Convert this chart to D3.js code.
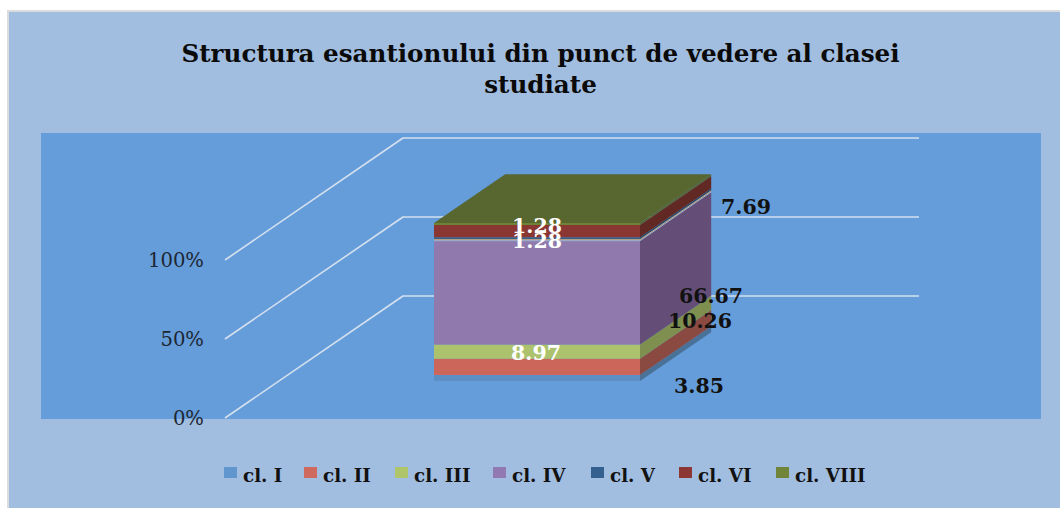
<!DOCTYPE html>
<html><head><meta charset="utf-8">
<script src="https://cdnjs.cloudflare.com/ajax/libs/d3/7.9.0/d3.min.js"></script>
<style>html,body{margin:0;padding:0;background:#fff;overflow:hidden}svg{display:block}</style>
</head><body><svg id="c" width="1060" height="508"></svg>
<script>
const categories = ["cl. I","cl. II","cl. III","cl. IV","cl. V","cl. VI","cl. VIII"];
const seriesValues = [3.85,10.26,8.97,66.67,1.28,7.69,1.28];
const seriesLabels = ["3.85","10.26","8.97","66.67","1.28","7.69","1.28"];
const tickLabels = ["0%","50%","100%"];
const tickValues = [0,50,100];
const titleLines = ["Structura esantionului din punct de vedere al clasei","studiate"];

const frontColors = ["#5d8fc4","#cc665b","#acc26c","#8f79ad","#35608c","#8a3733","#6f8336"];
const sideColors  = ["#4a7299","#8a4a42","#7e8f50","#644e78","#2b4a6b","#612824","#566330"];
const legendColors = ["#5f96cd","#cf6a5e","#afc569","#9279b1","#33608f","#8c3735","#71853a"];
const labelColors = ["#111","#111","#fff","#111","#fff","#111","#fff"];
const labelPos = [[699,386],[700,321],[536,353],[711,296],[537,241],[746,207],[537,226]];
const legendX = [224,304,395,493,591,679,776];

const svg = d3.select("#c");
const serif = "'DejaVu Serif','Liberation Serif',serif";
svg.append("rect").attr("x",7).attr("y",10).attr("width",1053).attr("height",498).attr("fill","#dcdcdc");
svg.append("rect").attr("x",9).attr("y",12).attr("width",1051).attr("height",496).attr("fill","#a1bddf");
svg.append("rect").attr("x",41).attr("y",133).attr("width",1000).attr("height",286).attr("fill","#659dda");

const y = d3.scaleLinear().domain([0,100]).range([418,260]);
const proj = (x,v,d)=>[x+178*d, y(v)-122*d];
const line = d3.line();

// wall and floor gridlines
const wallX0 = 225, wallX1 = 919;
svg.append("g").selectAll("path").data(tickValues).join("path")
  .attr("d",v=>line([proj(wallX0,v,0),proj(wallX0,v,1),[wallX1,proj(wallX0,v,1)[1]]]))
  .attr("fill","none").attr("stroke","#d4e0ee").attr("stroke-width",1.6).attr("stroke-linejoin","round");

// value axis labels
svg.append("g").selectAll("text").data(tickValues).join("text")
  .attr("x",204).attr("y",v=>y(v)+7).attr("text-anchor","end")
  .attr("font-family",serif).attr("font-size",19.6).attr("fill","#1d2733")
  .text((v,i)=>tickLabels[i]);

// stacked box
const stack = [];
let acc = 0;
seriesValues.forEach((v,i)=>{stack.push({i,from:acc,to:acc+v});acc+=v;});
const d0=0.303, d1=0.703;
const fx0=434-178*d0, fx1=640-178*d0;
const gBar = svg.append("g");
stack.forEach(s=>{
  gBar.append("path").attr("fill",sideColors[s.i])
    .attr("d",line([proj(fx1,s.from,d0),proj(fx1,s.from,d1),proj(fx1,s.to,d1),proj(fx1,s.to,d0)])+"Z");
  gBar.append("path").attr("fill",frontColors[s.i])
    .attr("d",line([proj(fx0,s.from,d0),proj(fx1,s.from,d0),proj(fx1,s.to,d0),proj(fx0,s.to,d0)])+"Z");
});
gBar.append("path").attr("fill","#58662f")
  .attr("d",line([proj(fx0,100,d0),proj(fx1,100,d0),proj(fx1,100,d1),proj(fx0,100,d1)])+"Z");

// pale seam along the top of the cl. IV band
const seamValue = d3.sum(seriesValues.slice(0,4));
[["#c8ab7c",0.5],["#9db6cf",1.5]].forEach(([col,off])=>{
  gBar.append("path").attr("fill","none").attr("stroke",col).attr("stroke-width",1)
    .attr("transform",`translate(0,${off})`)
    .attr("d",line([proj(fx0,seamValue,d0),proj(fx1,seamValue,d0),proj(fx1,seamValue,d1)]));
});

// data labels
svg.append("g").selectAll("text").data(stack).join("text")
  .attr("x",s=>labelPos[s.i][0]).attr("y",s=>labelPos[s.i][1]+7).attr("text-anchor","middle")
  .attr("font-family",serif).attr("font-weight","bold").attr("font-size",20.5)
  .attr("fill",s=>labelColors[s.i]).text(s=>seriesLabels[s.i]);

// title
svg.append("g").selectAll("text").data(titleLines).join("text")
  .attr("x",540.5).attr("y",(d,i)=>62+i*31).attr("text-anchor","middle")
  .attr("font-family",serif).attr("font-weight","bold").attr("font-size",24.6).attr("fill","#0a0a0a").text(d=>d);

// legend
const lg = svg.append("g").selectAll("g").data(categories).join("g")
  .attr("transform",(d,i)=>`translate(${legendX[i]},0)`);
lg.append("rect").attr("y",467).attr("width",13).attr("height",11).attr("fill",(d,i)=>legendColors[i]);
lg.append("text").attr("x",19).attr("y",482).attr("font-family",serif).attr("font-weight","bold").attr("font-size",18.3).attr("fill","#111").text(d=>d);
</script></body></html>
